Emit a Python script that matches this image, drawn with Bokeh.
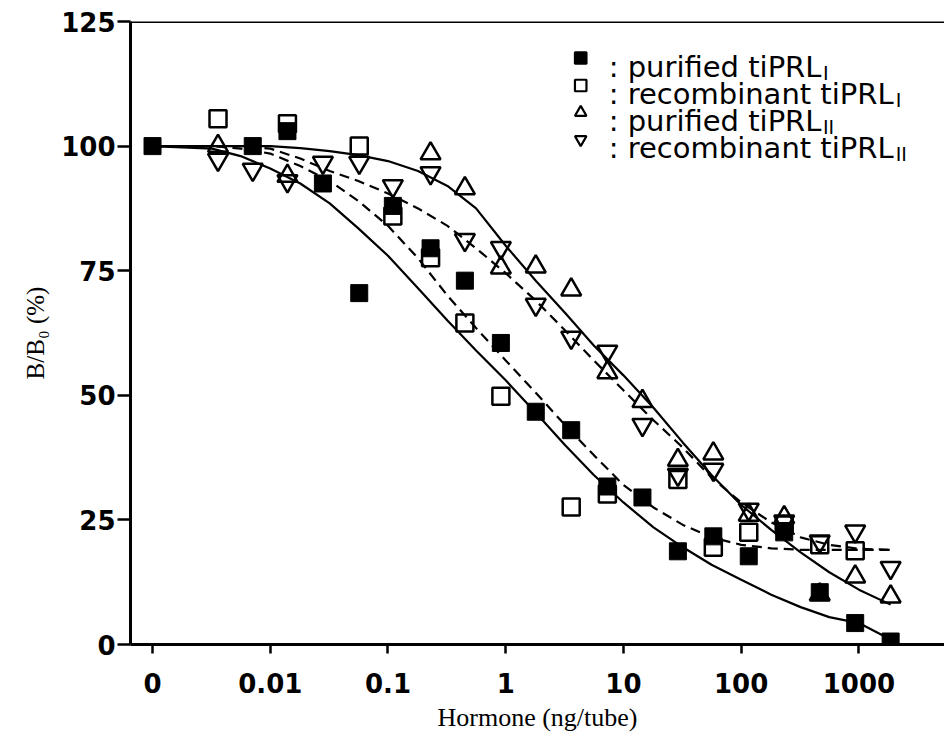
import numpy as np
from bokeh.plotting import figure
from bokeh.models import FixedTicker, Span, ColumnDataSource
from bokeh.core.properties import value
from bokeh.embed import file_html
from bokeh.resources import INLINE

# ---------------- data ----------------
dose = [0, 0.0036, 0.0071, 0.014, 0.028, 0.057, 0.11, 0.23, 0.45, 0.91,
        1.8, 3.6, 7.3, 14.5, 29, 58, 116, 232, 465, 930, 1860]
purified_I = [100, None, 100, 103, 92.5, 70.5, 88, 79.5, 73, 60.5,
              46.7, 43, 31.7, 29.5, 18.7, 21.7, 17.7, 22.5, 10.5, 4.3, 0.6]
recombinant_I = [None, 105.5, None, 104.5, None, 100, 86, 77.6, 64.5, 49.8,
                 None, 27.6, 30.2, None, 33.1, 19.5, 22.5, 24, 20, 18.8, None]
purified_II = [None, 100, None, 94, None, None, None, 98.5, 91.5, 75.6,
               75.8, 71.2, 54.6, 48.8, 37, 38.3, 26, 25.5, 10, 13.6, 9.6]
recombinant_II = [None, 97.3, 95.3, 93, 96.7, 96.7, 92, 94.6, 81.2, 79.6,
                  68.2, 61.6, 58.8, 44.1, 34.1, 35.1, 27.1, 24.7, 20.7, 22.7, 15.4]

# fitted curves
curve_dose = [0, 0.0032, 0.0056, 0.01, 0.018, 0.032, 0.056, 0.1, 0.18, 0.32, 0.56,
              1, 1.8, 3.2, 5.6, 10, 18, 32, 56, 100, 180, 320, 560, 1000, 1860]
fit_purified_I = [100, 99.5, 98, 95.5, 92.5, 88.5, 83.5, 78, 71.5, 65, 59,
                  53, 46.5, 40, 34, 28.5, 23.5, 19.5, 16, 13, 10, 7.5, 5.5, 4.3, 1]
fit_recombinant_I = [100, 100, 99.5, 98.5, 96, 93, 89, 84, 77.5, 70, 63.5,
                     57, 50.5, 44, 38, 32, 27.5, 24, 21.5, 20, 19.3, 19, 19, 19, 19]
fit_purified_II = [100, 100, 100, 100, 99.6, 99, 98.2, 97, 95, 92, 87.5,
                   80, 73, 66.5, 60, 54, 47.5, 40.5, 34, 28, 23, 18.5, 14.5, 11, 8]
fit_recombinant_II = [100, 100, 100, 99.5, 97.5, 95, 93, 90.5, 87.5, 84, 79.5,
                      74.5, 69, 63, 57, 51, 45, 39.5, 33.5, 28.5, 24.5, 21.5, 20, 19.2, 19]

x_tick_values = [0, 0.01, 0.1, 1, 10, 100, 1000]
x_tick_labels = ["0", "0.01", "0.1", "1", "10", "100", "1000"]
y_ticks = [0, 25, 50, 75, 100, 125]

legend_labels = [": purified tiPRL", ": recombinant tiPRL", ": purified tiPRL", ": recombinant tiPRL"]
legend_subs = ["I", "I", "II", "II"]

# ---------------- helpers ----------------
ZERO_POS = -3.0  # where the zero dose sits on the log axis


def pos(d):
    return float(np.log10(d)) if d > 0 else ZERO_POS


def pts(xs, ys):
    xx, yy = [], []
    for a, b in zip(xs, ys):
        if b is not None:
            xx.append(pos(a))
            yy.append(b)
    return xx, yy


# DejaVu Sans advance widths (em fraction)
DJV = {' ': .318, ':': .337, 'a': .613, 'b': .635, 'c': .550, 'd': .635, 'e': .615,
       'f': .352, 'i': .278, 'm': .974, 'n': .634, 'o': .612, 'p': .635, 'r': .411,
       't': .392, 'u': .634, 'P': .603, 'R': .695, 'L': .557, 'I': .295}


def text_w(s, size):
    return sum(DJV.get(c, .6) for c in s) * size


# ---------------- figure ----------------
X0, X1 = -3.187, 3.727
Y0, Y1 = 0, 125
p = figure(width=944, height=739, x_range=(X0, X1), y_range=(Y0, Y1),
           output_backend="svg", toolbar_location=None,
           min_border_left=130, min_border_right=0, min_border_top=21,
           min_border_bottom=95)
p.xgrid.visible = False
p.ygrid.visible = False
p.outline_line_color = None
p.background_fill_color = "white"
p.border_fill_color = "white"

p.xaxis.ticker = FixedTicker(ticks=[pos(v) for v in x_tick_values])
p.xaxis.major_label_overrides = {pos(v): lab for v, lab in zip(x_tick_values, x_tick_labels)}
p.yaxis.ticker = FixedTicker(ticks=y_ticks)

for ax in (p.xaxis[0], p.yaxis[0]):
    ax.axis_line_width = 3
    ax.axis_line_color = "black"
    ax.major_tick_line_width = 2.5
    ax.major_tick_line_color = "black"
    ax.major_tick_in = 0
    ax.minor_tick_in = 0
    ax.minor_tick_out = 0
    ax.major_label_text_font = "DejaVu Sans"
    ax.major_label_text_font_size = "26px"
    ax.major_label_text_font_style = "bold"
    ax.major_label_text_color = "black"
    ax.axis_label_text_font = "Liberation Serif"
    ax.axis_label_text_font_style = "normal"
    ax.axis_label_text_color = "black"

p.xaxis.major_tick_out = 9
p.xaxis.major_label_standoff = 19
p.xaxis.axis_label = "Hormone (ng/tube)"
p.xaxis.axis_label_text_font_size = "26px"
p.xaxis.axis_label_standoff = 7

p.yaxis.major_tick_out = 13
p.yaxis.major_label_standoff = 2
p.yaxis.axis_label = "B/B\u2080 (%)"
p.yaxis.axis_label_text_font_size = "25px"
p.yaxis.axis_label_standoff = 9

p.add_layout(Span(location=Y1, dimension="width", line_color="black", line_width=3))

# ---------------- curves ----------------
cx = [pos(d) for d in curve_dose]
p.line(cx, fit_purified_I, line_color="black", line_width=2.2)
p.line(cx, fit_recombinant_I, line_color="black", line_width=2.2, line_dash="10 6")
p.line(cx, fit_purified_II, line_color="black", line_width=2.2)
p.line(cx, fit_recombinant_II, line_color="black", line_width=2.2, line_dash="10 6")

# ---------------- points ----------------
x, y = pts(dose, recombinant_I)
p.scatter(x, y, marker="square", size=17, fill_color=None, line_color="black", line_width=2.5)
x, y = pts(dose, purified_II)
p.scatter(x, y, marker="triangle", size=20, fill_color=None, line_color="black", line_width=2.5)
x, y = pts(dose, recombinant_II)
p.scatter(x, y, marker="inverted_triangle", size=20, fill_color=None, line_color="black", line_width=2.5)
x, y = pts(dose, purified_I)
p.scatter(x, y, marker="square", size=17, fill_color="black", line_color="black", line_width=1)

# ---------------- legend (inside the frame, top right) ----------------
px_per_y = 623 / (Y1 - Y0)
LEG_X = 0.637                     # marker column (log-dose units)
base_px = [66, 93.5, 120.5, 147.5]  # text baselines, px from top of canvas
leg_font = 29
sub_font = 19
markers = ["square", "square", "triangle", "inverted_triangle"]
fills = ["black", None, None, None]
ly = [Y1 - (b - 21) / px_per_y for b in base_px]
my = [v + 8.5 / px_per_y for v in ly]
for i in range(4):
    p.scatter([LEG_X], [my[i]], marker=markers[i], size=11.5, fill_color=fills[i],
              line_color="black", line_width=2.2)
src = ColumnDataSource(dict(x=[LEG_X] * 4, y=ly, t=legend_labels))
TXT_OFF = 28
p.text(x="x", y="y", text="t", source=src, x_offset=TXT_OFF, text_baseline="alphabetic",
       text_align="left", text_font=value("DejaVu Sans"),
       text_font_size=value(f"{leg_font}px"), text_color="black")
for i in range(4):
    w = text_w(legend_labels[i], leg_font)
    p.text(x=[LEG_X], y=[ly[i]], text=[legend_subs[i]], x_offset=TXT_OFF + w + 1.5, y_offset=6,
           text_baseline="alphabetic", text_align="left",
           text_font=value("DejaVu Sans"), text_font_size=value(f"{sub_font}px"),
           text_color="black")

open("out.html", "w").write(file_html(p, INLINE))
